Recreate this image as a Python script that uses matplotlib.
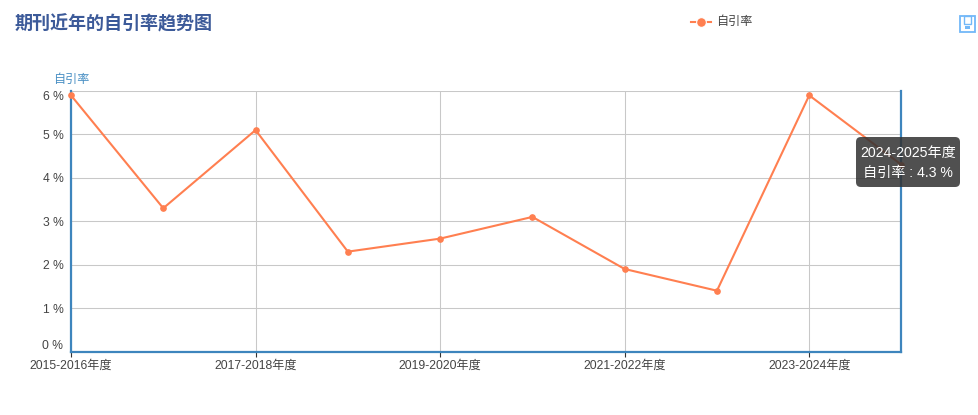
import matplotlib
matplotlib.use('Agg')
import matplotlib.pyplot as plt
from matplotlib.patches import FancyBboxPatch, Rectangle

plt.rcParams['font.family'] = ['Liberation Sans', 'Noto Sans CJK SC', 'DejaVu Sans']

years = ['2015-2016年度', '2016-2017年度', '2017-2018年度', '2018-2019年度', '2019-2020年度',
         '2020-2021年度', '2021-2022年度', '2022-2023年度', '2023-2024年度', '2024-2025年度']
self_cite = [5.9, 3.3, 5.1, 2.3, 2.6, 3.1, 1.9, 1.4, 5.9, 4.3]
y_ticks = [0, 1, 2, 3, 4, 5, 6]

W, H = 979, 415
LINE = '#ff7f50'
BLUE = '#3d85bd'
GRID = '#c8c8c8'
TEXT = '#444444'


def fx(px):
    return px / W


def fy(py):
    return 1 - py / H


fig = plt.figure(figsize=(W / 100, H / 100), dpi=100)
ax = fig.add_axes([fx(71), fy(351.5), fx(901.5) - fx(71), fy(91) - fy(351.5)])

x = list(range(len(years)))
ax.plot(x, self_cite, color=LINE, lw=1.5, marker='o', ms=3.8, clip_on=False, zorder=5)
ax.set_xlim(0, len(years) - 1)
ax.set_ylim(0, 6)

# grille et axes
ax.set_xticks(x[::2])
ax.set_xticklabels(years[::2], fontsize=8.7, color=TEXT)
ax.set_yticks(y_ticks)
ax.set_yticklabels([f'{v} %' for v in y_ticks], fontsize=8.7, color=TEXT)
ax.grid(True, color=GRID, lw=0.75)
ax.set_axisbelow(True)
ax.tick_params(axis='x', length=3.6, width=0.8, color='#333333', pad=2.5)
ax.tick_params(axis='y', length=0, pad=5.5)
ax.get_yticklabels()[0].set_va('bottom')
ax.get_yticklabels()[-1].set_va('top')

ax.spines['top'].set_visible(False)
for side in ['left', 'right', 'bottom']:
    ax.spines[side].set_color(BLUE)
    ax.spines[side].set_linewidth(1.6)

fig.text(fx(15), fy(24.5), '期刊近年的自引率趋势图', fontsize=13, fontweight='bold',
         color='#3c5a99', va='center', ha='left')
fig.text(fx(53), fy(80), '自引率', fontsize=8.7, color='#4a90c4', va='center', ha='left')

# légende
fig.add_artist(plt.Line2D([fx(691), fx(711)], [fy(22.5), fy(22.5)], color=LINE, lw=1.5))
fig.add_artist(plt.Line2D([fx(701)], [fy(22.5)], color=LINE, marker='o', ms=7, mec='white', mew=0.8))
fig.text(fx(716.5), fy(22), '自引率', fontsize=8.7, color=TEXT, va='center', ha='left')

# icône de sauvegarde
icon = '#72b8f8'
fig.add_artist(Rectangle((fx(960), fy(32)), fx(15), fy(16) - fy(32), fill=False, ec=icon, lw=1.3))
fig.add_artist(Rectangle((fx(964), fy(24)), fx(7), fy(16) - fy(24), fill=False, ec=icon, lw=1))
fig.add_artist(Rectangle((fx(965), fy(29.5)), fx(5), fy(26.5) - fy(29.5), fc=icon, ec='none'))

# infobulle
fig.add_artist(FancyBboxPatch((fx(856), fy(187)), fx(104), fy(137) - fy(187),
                              boxstyle='round,pad=0,rounding_size=0.005',
                              fc=(0.2, 0.2, 0.2, 0.86), ec='none',
                              mutation_aspect=W / H, zorder=10))
fig.text(fx(908), fy(153), '2024-2025年度', fontsize=10.2, color='white', va='center', ha='center', zorder=11)
fig.text(fx(908), fy(173), '自引率 : 4.3 %', fontsize=10.2, color='white', va='center', ha='center', zorder=11)

fig.savefig('out.png', dpi=100)
